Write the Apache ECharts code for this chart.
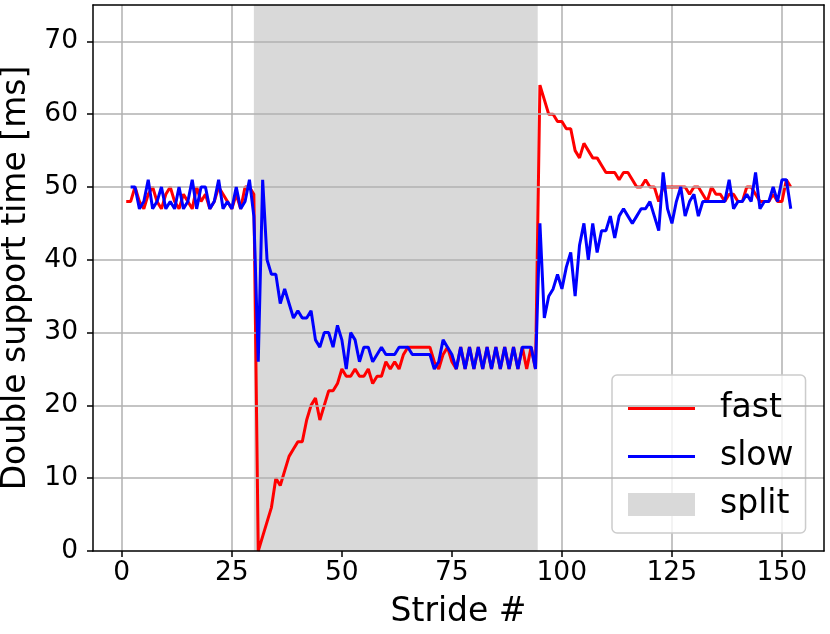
<!DOCTYPE html>
<html>
<head>
<meta charset="utf-8">
<script src="https://cdn.jsdelivr.net/npm/echarts@6/dist/echarts.min.js"></script>
<style>html,body{margin:0;padding:0;background:#fff;}#c{width:830px;height:634px;}</style>
</head>
<body>
<div id="c"></div>
<script>
// ---- data ----
var fastStart = 1;   // first stride of the "fast" series
var slowStart = 2;   // first stride of the "slow" series
var fastValues = [
  48,48,50,48,47,49,50,48,47,49,
  50,48,47,49,48,47,50,48,49,47,
  48,50,49,48,47,49,47,50,50,49,
  0,2,4,6,10,9,11,13,14,15,
  15,18,20,21,18,20,22,22,23,25,
  24,24,25,24,24,25,23,24,24,26,
  25,26,25,27,28,28,28,28,28,28,
  26,25,27,28,26,25,28,25,28,25,
  28,25,28,25,28,25,28,25,28,25,
  28,25,28,25,
  64,62,60,60,59,59,
  58,58,55,54,56,55,54,54,53,52,
  52,52,51,52,52,51,50,50,51,50,
  50,48,50,50,50,50,50,50,49,50,
  50,49,48,50,49,49,48,49,49,48,
  48,50,50,49,48,48,48,49,48,48,
  51,50
];
var slowValues = [
  50,50,47,48,51,47,48,50,47,
  48,47,50,47,48,51,47,50,50,47,
  48,51,47,48,47,50,47,48,51,46,
  26,51,40,38,38,34,36,34,32,33,
  32,32,33,29,28,30,30,28,31,29,
  25,30,29,26,28,28,26,27,28,27,
  27,27,28,28,28,27,27,27,27,27,
  25,26,29,28,27,25,28,25,28,25,
  28,25,28,25,28,25,28,25,28,25,
  28,28,28,25,
  45,32,35,36,38,36,
  39,41,35,42,45,40,45,41,44,44,
  46,43,46,47,46,45,46,47,47,48,
  46,44,52,47,45,48,50,46,48,49,
  46,48,48,48,48,48,48,51,47,48,
  48,49,48,52,47,48,48,50,48,51,
  51,47
];
var splitRange = [30, 94.5];
var seriesNames = ['fast', 'slow', 'split'];
var xTickRange = [0, 150, 25];
var yTickRange = [0, 75, 10];

function pairs(start, vals) {
  var out = [];
  for (var i = 0; i < vals.length; i++) out.push([start + i, vals[i]]);
  return out;
}

var FONT = 'DejaVu Sans';
var LINE_ICON = 'path://M0,0L67,0L67,3L0,3Z';
var chart = echarts.init(document.getElementById('c'), null, {renderer: 'canvas'});
chart.setOption({
  animation: false,
  backgroundColor: '#ffffff',
  textStyle: {fontFamily: FONT},
  grid: [
    {left: 93, right: 6, top: 5, bottom: 83, containLabel: false, outerBoundsMode: 'none'},
    {left: 121.8, right: 48.2, top: 5, bottom: 83, containLabel: false, outerBoundsMode: 'none'}
  ],
  xAxis: [
    {gridIndex: 0, type: 'value', min: -6.55, max: 159.55, z: 5,
     axisLine: {show: true, onZero: false, lineStyle: {color: '#000', width: 1.5}},
     axisTick: {show: false}, axisLabel: {show: false}, splitLine: {show: false},
     name: 'Stride #', nameLocation: 'middle', nameGap: 45,
     nameTextStyle: {fontSize: 33, color: '#000', fontFamily: FONT}},
    {gridIndex: 1, type: 'value', min: xTickRange[0], max: xTickRange[1], interval: xTickRange[2],
     axisLine: {show: false, onZero: false},
     axisTick: {show: true, length: 6, lineStyle: {color: '#000', width: 1.5}},
     axisLabel: {fontSize: 26.5, color: '#000', margin: 9, fontFamily: FONT},
     splitLine: {show: true, lineStyle: {color: '#b0b0b0', width: 1.5}}},
    {gridIndex: 0, type: 'value', position: 'top', min: -6.55, max: 159.55, z: 5,
     axisLine: {show: true, onZero: false, lineStyle: {color: '#000', width: 1.5}},
     axisTick: {show: false}, axisLabel: {show: false}, splitLine: {show: false}}
  ],
  yAxis: [
    {gridIndex: 0, type: 'value', min: yTickRange[0], max: yTickRange[1], interval: yTickRange[2], z: 4,
     axisLine: {show: true, onZero: false, lineStyle: {color: '#000', width: 1.5}},
     axisTick: {show: true, length: 6, lineStyle: {color: '#000', width: 1.5}},
     axisLabel: {fontSize: 26.5, color: '#000', margin: 15, showMaxLabel: false, fontFamily: FONT},
     splitLine: {show: true, showMaxLine: false, showMinLine: false, lineStyle: {color: '#b0b0b0', width: 1.5}},
     name: 'Double support time [ms]', nameLocation: 'middle', nameGap: 52, nameRotate: 90,
     nameTextStyle: {fontSize: 33, color: '#000', fontFamily: FONT}},
    {gridIndex: 0, type: 'value', position: 'right', min: 0, max: 75, z: 5,
     axisLine: {show: true, onZero: false, lineStyle: {color: '#000', width: 1.5}},
     axisTick: {show: false}, axisLabel: {show: false}, splitLine: {show: false}},
    {gridIndex: 1, type: 'value', min: 0, max: 75, show: false, splitLine: {show: false}}
  ],
  legend: {
    orient: 'vertical', left: 612, top: 375,
    data: [{name: seriesNames[0], icon: LINE_ICON}, {name: seriesNames[1], icon: LINE_ICON},
           {name: seriesNames[2], icon: 'rect'}],
    itemWidth: 67, itemHeight: 23, itemGap: 15, symbolKeepAspect: true,
    padding: [17, 12, 12, 16],
    textStyle: {fontSize: 33, color: '#000', fontFamily: FONT, padding: [0, 0, 0, 20]},
    backgroundColor: 'rgba(255,255,255,0.8)', borderColor: '#cccccc', borderWidth: 1.5, borderRadius: 5,
    selectedMode: false
  },
  series: [
    {name: seriesNames[2], type: 'line', xAxisIndex: 0, yAxisIndex: 0, data: [], z: -1,
     itemStyle: {color: '#d9d9d9'}, lineStyle: {color: '#d9d9d9'},
     markArea: {silent: true, itemStyle: {color: '#d9d9d9'},
       data: [[{xAxis: splitRange[0]}, {xAxis: splitRange[1]}]]}},
    {name: seriesNames[0], type: 'line', xAxisIndex: 0, yAxisIndex: 0, data: pairs(fastStart, fastValues),
     symbol: 'none', color: '#ff0000', itemStyle: {color: '#ff0000'}, lineStyle: {color: '#ff0000', width: 3}, z: 3},
    {name: seriesNames[1], type: 'line', xAxisIndex: 0, yAxisIndex: 0, data: pairs(slowStart, slowValues),
     symbol: 'none', color: '#0000ff', itemStyle: {color: '#0000ff'}, lineStyle: {color: '#0000ff', width: 3}, z: 4}
  ]
});
</script>
</body>
</html>
